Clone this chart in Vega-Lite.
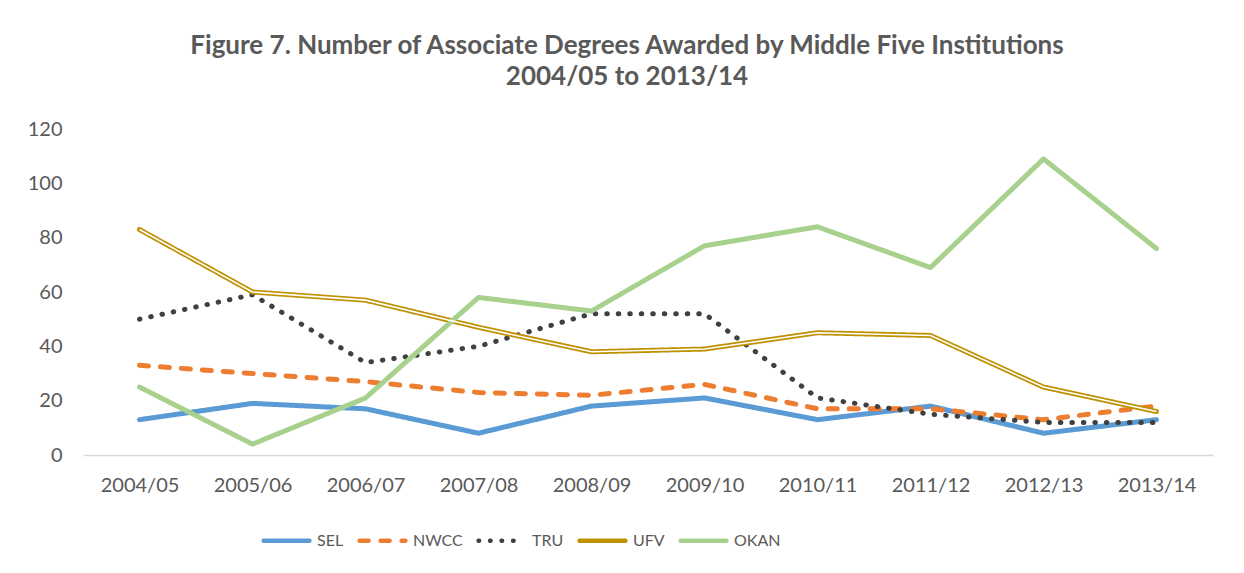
{
  "$schema": "https://vega.github.io/schema/vega-lite/v6.json",
  "autosize": {"type": "none"},
  "width": 1130,
  "height": 326,
  "padding": {"left": 83, "top": 129, "right": 31, "bottom": 118},
  "background": "white",
  "config": {"view": {"stroke": null}},
  "title": {
    "text": ["Figure 7. Number of Associate Degrees Awarded by Middle Five Institutions", "2004/05 to 2013/14"],
    "font": "Lato",
    "fontSize": 26,
    "fontWeight": "bold",
    "color": "#595959",
    "anchor": "middle",
    "frame": "group",
    "dx": -21,
    "lineHeight": 31,
    "offset": 29
  },
  "data": {
    "values": [
      {"year": "2004/05", "series": "SEL", "value": 13},
      {"year": "2005/06", "series": "SEL", "value": 19},
      {"year": "2006/07", "series": "SEL", "value": 17},
      {"year": "2007/08", "series": "SEL", "value": 8},
      {"year": "2008/09", "series": "SEL", "value": 18},
      {"year": "2009/10", "series": "SEL", "value": 21},
      {"year": "2010/11", "series": "SEL", "value": 13},
      {"year": "2011/12", "series": "SEL", "value": 18},
      {"year": "2012/13", "series": "SEL", "value": 8},
      {"year": "2013/14", "series": "SEL", "value": 13},
      {"year": "2004/05", "series": "NWCC", "value": 33},
      {"year": "2005/06", "series": "NWCC", "value": 30},
      {"year": "2006/07", "series": "NWCC", "value": 27},
      {"year": "2007/08", "series": "NWCC", "value": 23},
      {"year": "2008/09", "series": "NWCC", "value": 22},
      {"year": "2009/10", "series": "NWCC", "value": 26},
      {"year": "2010/11", "series": "NWCC", "value": 17},
      {"year": "2011/12", "series": "NWCC", "value": 17},
      {"year": "2012/13", "series": "NWCC", "value": 13},
      {"year": "2013/14", "series": "NWCC", "value": 18},
      {"year": "2004/05", "series": "TRU", "value": 50},
      {"year": "2005/06", "series": "TRU", "value": 59},
      {"year": "2006/07", "series": "TRU", "value": 34},
      {"year": "2007/08", "series": "TRU", "value": 40},
      {"year": "2008/09", "series": "TRU", "value": 52},
      {"year": "2009/10", "series": "TRU", "value": 52},
      {"year": "2010/11", "series": "TRU", "value": 21},
      {"year": "2011/12", "series": "TRU", "value": 15},
      {"year": "2012/13", "series": "TRU", "value": 12},
      {"year": "2013/14", "series": "TRU", "value": 12},
      {"year": "2004/05", "series": "UFV", "value": 83},
      {"year": "2005/06", "series": "UFV", "value": 60},
      {"year": "2006/07", "series": "UFV", "value": 57},
      {"year": "2007/08", "series": "UFV", "value": 47},
      {"year": "2008/09", "series": "UFV", "value": 38},
      {"year": "2009/10", "series": "UFV", "value": 39},
      {"year": "2010/11", "series": "UFV", "value": 45},
      {"year": "2011/12", "series": "UFV", "value": 44},
      {"year": "2012/13", "series": "UFV", "value": 25},
      {"year": "2013/14", "series": "UFV", "value": 16},
      {"year": "2004/05", "series": "OKAN", "value": 25},
      {"year": "2005/06", "series": "OKAN", "value": 4},
      {"year": "2006/07", "series": "OKAN", "value": 21},
      {"year": "2007/08", "series": "OKAN", "value": 58},
      {"year": "2008/09", "series": "OKAN", "value": 53},
      {"year": "2009/10", "series": "OKAN", "value": 77},
      {"year": "2010/11", "series": "OKAN", "value": 84},
      {"year": "2011/12", "series": "OKAN", "value": 69},
      {"year": "2012/13", "series": "OKAN", "value": 109},
      {"year": "2013/14", "series": "OKAN", "value": 76}
    ]
  },
  "encoding": {
    "x": {
      "field": "year",
      "type": "nominal",
      "sort": null,
      "scale": {"type": "point", "padding": 0.5},
      "axis": {
        "title": null,
        "labelAngle": 0,
        "labelFont": "Lato",
        "labelFontSize": 20,
        "labelColor": "#595959",
        "labelPadding": 20,
        "ticks": false,
        "domainColor": "#d9d9d9",
        "domainWidth": 1.5,
        "grid": false
      }
    },
    "y": {
      "field": "value",
      "type": "quantitative",
      "scale": {"domain": [0, 120], "nice": false},
      "axis": {
        "title": null,
        "values": [0, 20, 40, 60, 80, 100, 120],
        "labelFont": "Lato",
        "labelFontSize": 20,
        "labelColor": "#595959",
        "labelPadding": 21,
        "ticks": false,
        "domain": false,
        "grid": false
      }
    }
  },
  "layer": [
    {
      "mark": {"type": "line", "strokeWidth": 5, "strokeCap": "round", "strokeJoin": "round"},
      "encoding": {
        "detail": {"field": "series"},
        "color": {
          "field": "series",
          "type": "nominal",
          "sort": ["SEL", "NWCC", "TRU", "UFV", "OKAN"],
          "scale": {
            "domain": ["SEL", "NWCC", "TRU", "UFV", "OKAN"],
            "range": ["#5b9bd5", "#ed7d31", "#404040", "#bf9000", "#a9d18e"]
          },
          "legend": {
            "title": null,
            "orient": "none",
            "direction": "horizontal",
            "legendX": 178,
            "legendY": 386,
            "symbolType": "stroke",
            "symbolSize": 2100,
            "symbolStrokeWidth": 4.5,
            "labelFont": "Lato",
            "labelFontSize": 16,
            "labelColor": "#595959",
            "labelOffset": 5,
            "columnPadding": 6,
            "encode": {"symbols": {"update": {"strokeCap": {"value": "round"}}}}
          }
        },
        "strokeDash": {
          "field": "series",
          "type": "nominal",
          "sort": ["SEL", "NWCC", "TRU", "UFV", "OKAN"],
          "scale": {
            "domain": ["SEL", "NWCC", "TRU", "UFV", "OKAN"],
            "range": [[1, 0], [9, 12], [0.5, 11], [1, 0], [1, 0]]
          },
          "legend": {
            "title": null,
            "orient": "none",
            "direction": "horizontal",
            "legendX": 178,
            "legendY": 386,
            "symbolType": "stroke",
            "symbolSize": 2100,
            "symbolStrokeWidth": 4.5,
            "labelFont": "Lato",
            "labelFontSize": 16,
            "labelColor": "#595959",
            "labelOffset": 5,
            "columnPadding": 6,
            "encode": {"symbols": {"update": {"strokeCap": {"value": "round"}}}}
          }
        }
      }
    },
    {
      "transform": [{"filter": "datum.series === 'UFV'"}],
      "mark": {"type": "line", "strokeWidth": 1.6, "color": "white", "strokeJoin": "round"},
      "encoding": {}
    }
  ]
}
